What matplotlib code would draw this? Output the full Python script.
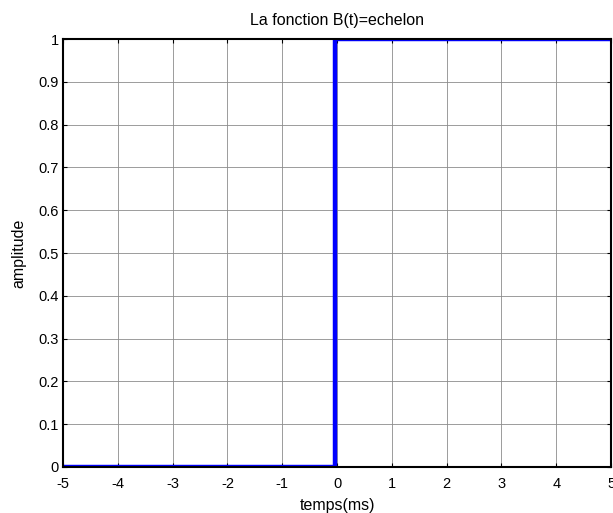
import numpy as np
import matplotlib
matplotlib.use('Agg')
import matplotlib.pyplot as plt

# echelon unitaire sur [-5, 5] ms
temps = [-5, -0.03, -0.03, 5]
amplitude = [0, 0, 1, 1]

xticks = list(range(-5, 6))
yticks = [0, 0.1, 0.2, 0.3, 0.4, 0.5, 0.6, 0.7, 0.8, 0.9, 1]
ytick_labels = ['0', '0.1', '0.2', '0.3', '0.4', '0.5', '0.6', '0.7', '0.8', '0.9', '1']

plt.rcParams['font.family'] = ['Liberation Sans', 'DejaVu Sans']
plt.rcParams['font.size'] = 10.5
plt.rcParams['axes.unicode_minus'] = False

fig = plt.figure(figsize=(6.13, 5.13), dpi=100)
ax = fig.add_axes([0.1028, 0.0897, 0.894, 0.834])

ax.plot(temps, amplitude, color='#0000ff', linewidth=3.2, solid_joinstyle='miter')

ax.set_xlim(-5, 5)
ax.set_ylim(0, 1)
ax.set_xticks(xticks)
ax.set_yticks(yticks)
ax.set_yticklabels(ytick_labels)
ax.grid(True, color='#8c8c8c', linestyle='-', linewidth=0.6)
ax.tick_params(direction='in', top=True, right=True, length=3, width=0.8,
               labelsize=10.5)
ax.tick_params(axis='x', pad=7)
ax.tick_params(axis='y', pad=3)
for s in ax.spines.values():
    s.set_linewidth(1.5)

ax.set_title('La fonction B(t)=echelon', fontsize=11.5, pad=10)
ax.set_xlabel('temps(ms)', fontsize=11.5, labelpad=5)
ax.set_ylabel('amplitude', fontsize=11.5, labelpad=9)

fig.savefig('out.png', dpi=100)
